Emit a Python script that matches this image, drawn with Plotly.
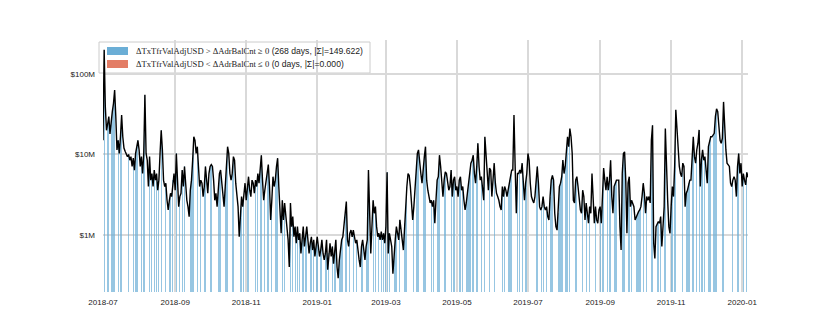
import plotly.graph_objects as go
import pandas as pd

# ---- data ----
start_date = "2018-07-01"
# daily TxTfrValAdjUSD in millions of USD
tx_value_musd = [
    15, 200, 39, 20, 24, 29.5, 18, 27, 34, 43,
    63, 29.5, 11.4, 15, 10.3, 16.6, 31, 16.6, 12, 11,
    10, 9.4, 10, 8.5, 9.4, 7.1, 9, 6.4, 10.3, 12.5,
    15, 11.4, 7.1, 9.4, 5.8, 10.3, 55, 10.3, 8.5, 4.0,
    9.4, 4.8, 5.8, 4.0, 6.4, 4.8, 5.8, 3.6, 4.8, 10.3,
    20, 11.4, 4.8, 4.0, 4.4, 2.7, 2.05, 2.7, 3.3, 3.0,
    4.8, 5.8, 3.6, 10.3, 4.8, 2.25, 3.0, 3.3, 6.4, 4.0,
    7.1, 3.6, 2.7, 2.25, 1.69, 3.6, 4.8, 8.5, 16.6, 15,
    10.3, 12.5, 5.8, 4.0, 4.8, 4.4, 3.0, 4.0, 7.1, 4.4,
    3.3, 5.8, 7.1, 7.5, 7.1, 4.8, 2.7, 3.3, 2.25, 3.6,
    5.8, 6.4, 4.8, 3.6, 2.25, 4.0, 7.1, 12.5, 10.3, 5.8,
    4.8, 5.8, 9.4, 8.5, 4.4, 2.7, 2.25, 0.95, 1.86, 3.0,
    2.25, 3.0, 4.4, 2.7, 4.0, 5.3, 3.6, 3.0, 4.8, 4.4,
    3.3, 4.8, 4.0, 5.8, 4.4, 7.8, 9.8, 4.8, 2.7, 3.6,
    4.8, 6.4, 7.5, 4.0, 1.54, 2.7, 5.3, 4.0, 4.8, 7.1,
    9, 4.0, 1.86, 1.05, 2.7, 1.54, 2.5, 1.86, 1.27, 0.87,
    0.40, 2.5, 1.27, 1.69, 0.95, 1.27, 0.79, 1.27, 0.87, 1.05,
    0.59, 0.87, 1.27, 0.72, 0.95, 1.27, 0.87, 0.59, 0.79, 0.95,
    0.65, 0.87, 0.54, 0.79, 0.95, 0.72, 0.54, 0.65, 0.87, 0.59,
    0.49, 0.59, 0.87, 0.37, 0.59, 0.79, 0.54, 0.72, 0.44, 0.65,
    0.87, 0.40, 0.29, 0.49, 0.65, 0.87, 0.95, 1.27, 1.86, 2.6,
    0.87, 0.72, 1.05, 1.15, 0.95, 1.15, 0.95, 0.79, 0.87, 0.59,
    0.49, 0.40, 0.72, 0.87, 0.59, 0.49, 0.72, 0.87, 6.4, 1.27,
    0.59, 1.27, 2.7, 1.86, 2.25, 1.27, 0.95, 1.05, 0.87, 1.1,
    0.87, 1.05, 0.79, 1.27, 6.0, 0.59, 1.05, 0.87, 0.72, 0.33,
    0.59, 0.87, 1.27, 1.05, 0.87, 1.54, 1.05, 0.87, 0.65, 1.40,
    2.25, 4.0, 5.8, 5.5, 4.0, 2.5, 1.54, 2.25, 4.0, 7.8,
    10.3, 11.4, 7.1, 5.8, 4.4, 7.1, 9.4, 12.5, 4.8, 3.6,
    3.0, 2.5, 2.7, 2.25, 2.7, 1.40, 2.7, 4.8, 5.3, 9.8,
    7.1, 4.4, 3.0, 4.8, 6.1, 5.8, 4.8, 3.6, 4.0, 6.4,
    3.0, 4.8, 5.3, 3.6, 4.0, 3.0, 4.8, 5.3, 3.6, 4.0,
    2.7, 2.05, 2.5, 3.3, 4.4, 5.8, 7.8, 8.5, 9.8, 5.8,
    4.4, 7.1, 13.8, 7.1, 4.8, 5.3, 4.0, 2.7, 16.6, 9.4,
    4.8, 3.6, 6.8, 6.4, 3.0, 4.8, 7.8, 4.4, 3.3, 3.0,
    2.7, 2.25, 2.05, 4.0, 3.0, 4.0, 3.6, 3.0, 3.6, 4.8,
    5.8, 6.4, 6.4, 31, 7.1, 1.86, 5.8, 5.8, 6.4, 5.8,
    7.8, 4.0, 2.7, 4.4, 5.8, 10.3, 8.5, 4.4, 3.0, 2.7,
    2.5, 3.0, 4.8, 7.1, 4.4, 2.25, 2.05, 2.25, 3.0, 2.25,
    2.05, 2.25, 1.69, 1.54, 3.0, 4.8, 5.5, 4.8, 1.86, 1.27,
    1.15, 1.86, 4.0, 4.4, 5.3, 8.5, 5.8, 7.1, 11.4, 16.6,
    12.5, 21, 16.6, 10.3, 2.7, 2.5, 4.8, 5.3, 4.0, 3.0,
    2.05, 1.86, 3.6, 3.0, 1.54, 2.5, 1.86, 1.40, 2.25, 1.86,
    5.8, 3.0, 1.40, 2.25, 1.54, 1.40, 2.05, 2.25, 1.40, 3.0,
    6.8, 4.8, 3.6, 5.3, 3.6, 4.8, 8.5, 3.0, 1.86, 4.0,
    4.4, 4.8, 4.8, 4.8, 1.27, 0.65, 5.8, 10.3, 10.8, 4.8,
    1.05, 4.4, 5.3, 2.25, 2.7, 2.5, 2.25, 1.54, 1.69, 1.86,
    1.95, 2.05, 2.25, 3.0, 4.4, 3.3, 1.86, 3.0, 2.7, 3.0,
    2.5, 15, 23, 0.79, 0.51, 1.27, 1.40, 1.47, 1.40, 1.69,
    0.72, 1.15, 2.25, 21, 4.8, 2.7, 1.27, 1.05, 2.25, 4.0,
    3.0, 7.1, 36, 18.3, 9.4, 7.1, 5.8, 5.3, 7.8, 7.1,
    2.25, 3.3, 3.6, 4.4, 4.8, 4.8, 11.4, 16.6, 9.4, 7.8,
    11.4, 13.8, 20.2, 4.0, 8.5, 11.4, 8.5, 9.4, 6.4, 4.4,
    12.5, 15, 16.6, 16.6, 17.5, 18.3, 29.5, 37, 34, 22.2,
    15, 13.8, 16, 45, 16.6, 11.4, 7.8, 7.5, 7.1, 4.4,
    4.0, 4.8, 5.3, 4.8, 3.0, 7.1, 10.3, 5.8, 7.8, 4.0,
    5.8, 4.8, 4.2, 6.0, 5.2,
]

y_tick_vals = [1e6, 1e7, 1e8]
y_tick_text = ["$1M", "$10M", "$100M"]

legend_labels = [
    ("ΔTxTfrValAdjUSD &gt; ΔAdrBalCnt ≥ 0", " (268 days, |Σ|=149.622)"),
    ("ΔTxTfrValAdjUSD &lt; ΔAdrBalCnt ≤ 0", " (0 days, |Σ|=0.000)"),
]
legend_colors = ["#6baed6", "#e37d66"]

# ---- build ----
dates = pd.date_range(start_date, periods=len(tx_value_musd), freq="D")
values = [v * 1e6 for v in tx_value_musd]
# days where the transferred value rose (the highlighted days)
up_idx = [i for i in range(1, len(values)) if values[i] > values[i - 1]]
bar_x = [dates[i] for i in up_idx]
bar_y = [values[i] for i in up_idx]

fig = go.Figure()
fig.add_trace(go.Bar(
    x=bar_x, y=bar_y,
    width=0.75 * 86400000,
    marker=dict(color="rgba(107,174,214,0.7)", line=dict(width=0)),
    showlegend=False, hoverinfo="skip",
))
fig.add_trace(go.Scatter(
    x=dates, y=values, mode="lines",
    line=dict(color="black", width=1.4),
    showlegend=False,
))

# page has an 8px body margin; figure coords = page coords - 8
OFF = 8
W, H = 830 - OFF, 332 - OFF
L, T = 103 - OFF, 40 - OFF
R = W - (748 - OFF)
B = H - (292 - OFF)
pw, ph = W - L - R, H - T - B


def px_x(p):  # page pixel -> paper
    return (p - OFF - L) / pw


def px_y(p):
    return (H - B - (p - OFF)) / ph


shapes = [dict(
    type="rect", xref="paper", yref="paper", layer="between",
    x0=px_x(99), x1=px_x(370), y0=px_y(73), y1=px_y(42),
    fillcolor="white", line=dict(color="#cccccc", width=1),
)]
annotations = []
for k, ((math_part, text_part), col) in enumerate(zip(legend_labels, legend_colors)):
    cy = 51 + 13 * k
    shapes.append(dict(
        type="rect", xref="paper", yref="paper", layer="above",
        x0=px_x(107), x1=px_x(128), y0=px_y(cy + 4), y1=px_y(cy - 4),
        fillcolor=col, line=dict(width=0),
    ))
    annotations.append(dict(
        xref="paper", yref="paper", x=px_x(134), y=px_y(cy),
        xanchor="left", yanchor="middle", showarrow=False,
        text=f"<span style='font-family:Liberation Serif'>{math_part}</span>{text_part}",
        font=dict(family="Liberation Sans", size=8.6, color="#222"),
    ))

fig.update_layout(
    width=W, height=H,
    margin=dict(l=L, r=R, t=T, b=B, pad=0, autoexpand=False),
    plot_bgcolor="white", paper_bgcolor="white",
    bargap=0,
    shapes=shapes, annotations=annotations,
    font=dict(family="Liberation Sans", size=8, color="#222"),
)
fig.update_xaxes(
    type="date", range=[dates[0], dates[-1]],
    dtick="M2", tick0="2018-07-01", tickformat="%Y-%m",
    showgrid=True, gridcolor="#d9d9d9", gridwidth=1.5,
    showline=False, zeroline=False, ticks="", ticklen=0,
    tickfont=dict(size=8), ticklabelstandoff=4,
)
fig.update_yaxes(
    type="log", range=[5.292, 8.422],
    tickvals=y_tick_vals, ticktext=y_tick_text,
    showgrid=True, gridcolor="#d9d9d9", gridwidth=1.5,
    showline=False, zeroline=False, ticks="", ticklen=0,
    tickfont=dict(size=8), ticklabelstandoff=7,
)

fig.write_html("out.html")
